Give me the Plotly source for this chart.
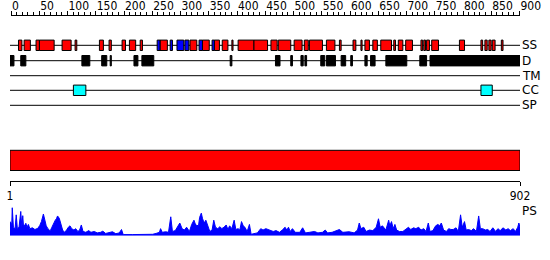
import plotly.graph_objects as go

SEQ_LEN = 902

# Secondary structure: helices (red) and strands (blue), residue start/end
helix = [(16, 22), (26, 37), (47, 53), (53, 79), (93, 109), (116, 119), (159, 166), (176, 180),
         (199, 205), (212, 223), (231, 235), (266, 279), (319, 331), (341, 353), (362, 371),
         (376, 386), (393, 395), (404, 432), (432, 456), (462, 473), (475, 497), (503, 517),
         (521, 528), (530, 553), (560, 575), (583, 586), (607, 612), (621, 623), (628, 636),
         (642, 650), (656, 675), (679, 682), (687, 695), (700, 712), (727, 730), (732, 735),
         (737, 742), (746, 758), (795, 804), (833, 836), (840, 844), (847, 851), (853, 858),
         (869, 872)]
strand = [(261, 266), (284, 288), (296, 308), (310, 317), (335, 341), (358, 362)]
# Disordered regions (black)
disorder = [(1, 8), (20, 29), (128, 142), (163, 172), (178, 180), (220, 227), (234, 255),
            (390, 393), (470, 478), (497, 500), (515, 519), (522, 525), (550, 557), (560, 576),
            (586, 594), (603, 606), (628, 632), (638, 646), (665, 702), (725, 737), (743, 902)]
# Coiled coils (cyan)
coiled = [(113, 135), (833, 853)]
tracks = ["SS", "D", "TM", "CC", "SP"]

# PS profile (residue, score)
ps_pos = [0, 3, 4, 5, 7, 10, 12, 14, 17, 20, 22, 23.5, 25, 29, 31, 33.5, 36, 40.5, 45, 50, 53.5,
          56.5, 60, 62.5, 65, 68, 72, 75, 78, 81, 83, 85, 88, 91, 94, 97, 101, 104, 107, 110,
          114, 117, 121, 124, 127, 130, 135, 140, 144, 150, 155, 161, 165, 170, 176, 182, 188,
          194, 198, 201, 217, 235, 253, 259, 265, 267, 270, 276, 281, 285, 288, 293, 297, 301,
          305, 309, 313, 318, 322, 326, 329, 334, 336, 339, 341, 344, 347, 351, 354, 358, 361,
          364, 368, 372, 375, 379, 383, 386, 389, 393, 397, 400, 404, 407, 410, 413, 416, 420,
          424, 427, 433, 438, 444, 448, 453, 458, 462, 466, 471, 475, 477, 482, 487, 490, 493,
          496, 500, 505, 513, 518, 523, 530, 539, 545, 553, 558, 562, 570, 577, 583, 589, 600,
          609, 615, 618, 621, 626, 630, 636, 642, 648, 652, 655, 659, 665, 670, 672, 675, 678,
          681, 684, 689, 695, 701, 705, 709, 714, 718, 723, 727, 732, 736, 740, 743, 748, 753,
          757, 760, 763, 767, 772, 776, 780, 784, 789, 793, 797, 800, 804, 807, 811, 816, 820,
          825, 829, 832, 836, 841, 845, 849, 854, 859, 863, 867, 872, 877, 881, 885, 890, 894,
          898, 900, 902]
ps_val = [0.52, 0.45, 0.3, 1.0, 0.3, 0.25, 0.74, 0.25, 0.3, 0.86, 0.3, 0.71, 0.3, 0.44, 0.3, 0.4,
          0.25, 0.28, 0.22, 0.26, 0.36, 0.5, 0.77, 0.6, 0.35, 0.25, 0.17, 0.3, 0.45, 0.55, 0.6,
          0.7, 0.62, 0.4, 0.2, 0.12, 0.2, 0.3, 0.35, 0.25, 0.2, 0.25, 0.15, 0.2, 0.38, 0.15, 0.12,
          0.18, 0.12, 0.15, 0.1, 0.12, 0.16, 0.08, 0.1, 0.14, 0.07, 0.1, 0.22, 0.04, 0.04, 0.04,
          0.05, 0.08, 0.12, 0.25, 0.12, 0.14, 0.12, 0.67, 0.15, 0.18, 0.3, 0.45, 0.25, 0.2, 0.3,
          0.15, 0.4, 0.55, 0.38, 0.35, 0.65, 0.8, 0.62, 0.45, 0.55, 0.35, 0.15, 0.2, 0.55, 0.3,
          0.25, 0.32, 0.25, 0.3, 0.38, 0.22, 0.35, 0.25, 0.55, 0.22, 0.25, 0.2, 0.5, 0.35, 0.3,
          0.15, 0.4, 0.05, 0.08, 0.1, 0.25, 0.2, 0.25, 0.22, 0.2, 0.15, 0.18, 0.12, 0.12, 0.2,
          0.3, 0.2, 0.3, 0.15, 0.25, 0.12, 0.12, 0.28, 0.1, 0.12, 0.15, 0.1, 0.12, 0.2, 0.1,
          0.12, 0.18, 0.22, 0.12, 0.14, 0.1, 0.2, 0.45, 0.25, 0.3, 0.15, 0.2, 0.18, 0.3, 0.6,
          0.3, 0.35, 0.2, 0.55, 0.35, 0.5, 0.25, 0.4, 0.2, 0.15, 0.15, 0.25, 0.3, 0.22, 0.28,
          0.25, 0.3, 0.2, 0.25, 0.15, 0.45, 0.15, 0.18, 0.35, 0.4, 0.35, 0.45, 0.2, 0.15, 0.25,
          0.22, 0.22, 0.28, 0.15, 0.74, 0.3, 0.5, 0.2, 0.22, 0.18, 0.25, 0.15, 0.7, 0.25, 0.25,
          0.2, 0.22, 0.15, 0.28, 0.15, 0.25, 0.18, 0.28, 0.2, 0.25, 0.18, 0.25, 0.15, 0.3, 0.45,
          0.3]

W, H = 550, 260
track_y = {"SS": 45.3, "D": 60.7, "TM": 75.7, "CC": 90.3, "SP": 105.3}
half = 5.2
FONT_LBL = dict(family="DejaVu Sans", size=12, color="black")
FONT_TICK = dict(family="Liberation Sans Narrow, DejaVu Sans Condensed, Liberation Sans", size=12, color="black")

shapes = []
for t in tracks:
    shapes.append(dict(type="line", xref="x", yref="y", x0=1, x1=SEQ_LEN,
                       y0=track_y[t], y1=track_y[t], line=dict(color="black", width=1)))

def box(s, e, yc, color):
    shapes.append(dict(type="rect", xref="x", yref="y", x0=s, x1=e, y0=yc - half, y1=yc + half,
                       fillcolor=color, line=dict(color="black", width=1)))

for s, e in helix:
    box(s, e, track_y["SS"], "#ff0000")
for s, e in strand:
    box(s, e, track_y["SS"], "#0000ff")
for s, e in disorder:
    box(s, e, track_y["D"], "#000000")
for s, e in coiled:
    box(s, e, track_y["CC"], "#00ffff")

# domain bar across full sequence
shapes.append(dict(type="rect", xref="x", yref="y", x0=1, x1=SEQ_LEN, y0=150.3, y1=170.5,
                   fillcolor="#ff0000", line=dict(color="black", width=1)))

annotations = []
for t in tracks:
    annotations.append(dict(x=SEQ_LEN, y=track_y[t], xref="x", yref="y", text=t, showarrow=False,
                            xanchor="left", yanchor="middle", xshift=0, font=FONT_LBL))
annotations.append(dict(x=SEQ_LEN, y=211, xref="x", yref="y", text="PS", showarrow=False,
                        xanchor="left", yanchor="middle", xshift=0, font=FONT_LBL))

fig = go.Figure()
fig.add_trace(go.Scatter(x=[1], y=[-100], mode="markers", marker=dict(opacity=0),
                         hoverinfo="skip", showlegend=False, xaxis="x", yaxis="y"))
fig.add_trace(go.Scatter(x=[0], y=[-100], mode="markers", marker=dict(opacity=0),
                         hoverinfo="skip", showlegend=False, xaxis="x2", yaxis="y"))
fig.add_trace(go.Scatter(x=ps_pos, y=ps_val, mode="lines", fill="tozeroy",
                         line=dict(color="#0000ff", width=1), fillcolor="#0000ff",
                         hoverinfo="skip", showlegend=False, xaxis="x", yaxis="y2"))

fig.update_layout(
    template="none",
    width=W, height=H, margin=dict(l=0, r=0, t=0, b=0, autoexpand=False),
    paper_bgcolor="white", plot_bgcolor="rgba(0,0,0,0)", showlegend=False,
    xaxis=dict(domain=[10 / W, 520 / W], range=[1, SEQ_LEN], anchor="free",
               position=1 - 180.5 / H, side="bottom", showline=True, linecolor="black",
               linewidth=1, ticks="outside", ticklen=4, tickwidth=1, tickcolor="black",
               tickmode="array", tickvals=[1, SEQ_LEN], ticktext=["1", str(SEQ_LEN)],
               tickangle=0, automargin=False,
               tickfont=FONT_TICK, showgrid=False, zeroline=False, fixedrange=True),
    xaxis2=dict(domain=[11 / W, 519.5 / W], range=[0, 900], anchor="free",
                position=1 - 14.7 / H, side="top", showline=True, linecolor="black",
                linewidth=1, ticks="outside", ticklen=4, tickwidth=1, tickcolor="black",
                tickmode="linear", tick0=0, dtick=50, ticklabelposition="outside right",
                tickangle=0, automargin=False,
                minor=dict(dtick=10, ticks="outside", ticklen=3, tickcolor="black", tickwidth=1,
                           showgrid=False),
                tickfont=FONT_TICK, showgrid=False, zeroline=False, fixedrange=True),
    yaxis=dict(domain=[0, 1], range=[H, 0], visible=False, fixedrange=True, automargin=False),
    yaxis2=dict(domain=[(H - 235.7) / H, (H - 207.5) / H], range=[0, 1], anchor="x",
                visible=False, fixedrange=True, automargin=False),
    shapes=shapes, annotations=annotations,
)

fig.write_html("out.html")
